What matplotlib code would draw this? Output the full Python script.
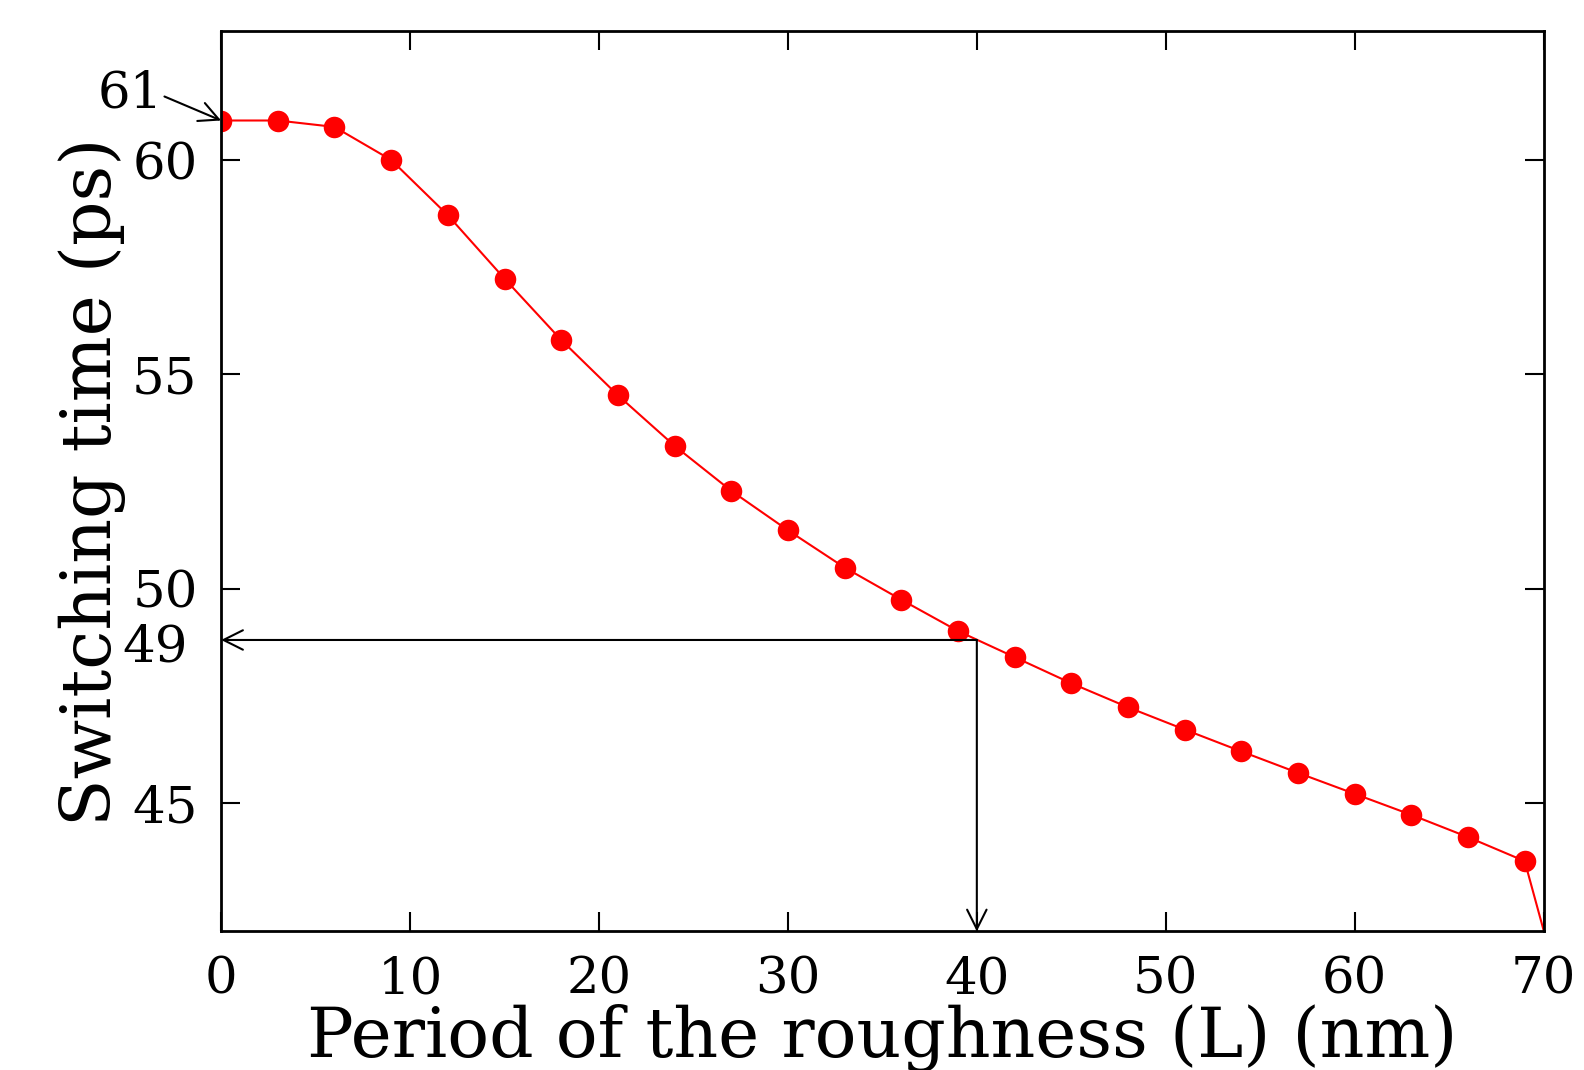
import numpy as np
import matplotlib
matplotlib.use('Agg')
import matplotlib.pyplot as plt

# period of roughness (nm) vs switching time (ps)
period = [0, 3, 6, 9, 12, 15, 18, 21, 24, 27, 30, 33, 36, 39, 42, 45,
          48, 51, 54, 57, 60, 63, 66, 69, 72]
switch_time = [60.92, 60.92, 60.77, 60.0, 58.71, 57.23, 55.80, 54.51, 53.33,
               52.28, 51.36, 50.49, 49.74, 49.01, 48.40, 47.79, 47.23, 46.71,
               46.20, 45.70, 45.21, 44.72, 44.20, 43.64, 38.8]
xticks = [0, 10, 20, 30, 40, 50, 60, 70]
yticks = [45, 50, 55, 60]
mark_x = 40
mark_y = 48.8

plt.rcParams['font.family'] = 'DejaVu Serif'

fig = plt.figure(figsize=(15.84, 10.70), dpi=100)
ax = fig.add_axes([0.1396, 0.1295, 0.8349, 0.8412])

ax.plot(period, switch_time, color='red', lw=1.5, marker='o', ms=15.5,
        markeredgewidth=0, clip_on=True)

ax.set_xlim(0, 70)
ax.set_ylim(42, 63)
ax.set_xticks(xticks)
ax.set_yticks(yticks)
ax.tick_params(direction='in', length=14, width=1.5, labelsize=37,
               top=True, right=True, pad=17)
for s in ax.spines.values():
    s.set_linewidth(2)

ax.set_xlabel('Period of the roughness (L) (nm)', fontsize=50, labelpad=0)
ax.set_ylabel('Switching time (ps)', fontsize=50, labelpad=4)

# annotations
arw = dict(arrowstyle='->', color='black', lw=1.5, mutation_scale=35,
           shrinkA=0, shrinkB=0)
ax.annotate('', xy=(0, switch_time[0]), xytext=(-3.0, 61.48),
            arrowprops=arw, annotation_clip=False)
ax.text(-3.1, 61.55, '61', fontsize=37, ha='right', va='center', clip_on=False)
ax.annotate('', xy=(0, mark_y), xytext=(mark_x, mark_y), arrowprops=arw)
ax.annotate('', xy=(mark_x, 42), xytext=(mark_x, mark_y), arrowprops=arw)
ax.text(-1.75, 48.62, '49', fontsize=37, ha='right', va='center', clip_on=False)

fig.savefig('out.png', dpi=100)
